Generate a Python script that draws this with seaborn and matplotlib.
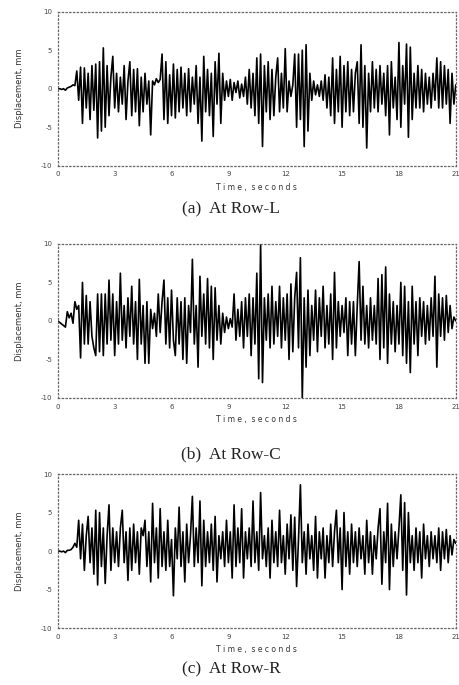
import numpy as np
import pandas as pd
import matplotlib
matplotlib.use("Agg")
import matplotlib.pyplot as plt
import seaborn as sns

# Displacement peaks, one value every 0.1 s (0 - 21 s)
row_l = [
    0, 0, -0.1, 0, -0.2, 0.1, 0.2, 0.3, 0.5, 0.4,
    2.3, -1.5, 2.8, -4.5, 2.7, -2.5, 2.0, -4.0, 3.0, -2.8,
    3.2, -6.4, 3.5, -5.5, 5.3, -5.0, 3.0, -3.5, 1.5, 4.2,
    -2.5, 2.0, -3.0, 1.5, -2.0, 3.0, -4.0, 1.0, 3.5, -3.5,
    2.5, -3.0, 2.6, -4.8, 1.5, -3.0, 2.0, -2.0, 1.0, -6.0,
    1.0, 0.5, 1.3, 0.8, 1.2, 4.5, -4.0, 3.5, -4.5, 1.8,
    -3.5, 3.2, -3.8, 2.5, -3.0, 2.8, -2.5, 2.0, -3.5, 2.6,
    -3.0, 1.5, -2.0, 3.0, -4.5, 1.5, -6.8, 4.2, -3.0, 2.5,
    -3.5, 2.0, -6.2, 3.5, -2.0, 4.6, -4.5, 2.0, -1.5, 1.0,
    -1.0, 1.2, -1.5, 0.8, -0.5, 1.0, -1.2, 0.6, -1.0, 1.5,
    -2.0, 2.5, -2.5, 2.0, -3.5, 4.0, -4.5, 4.5, -7.5, 3.0,
    -3.0, 3.5, -4.0, 2.5, -3.5, 1.5, 4.0, -3.0, 2.0, -2.5,
    5.2, -3.0, 1.0, -1.0, 0.5, 4.5, -5.0, 4.5, -4.0, 5.0,
    -7.5, 5.7, -5.5, 2.0, -1.5, 1.0, -0.8, 0.5, -1.0, 1.0,
    -1.5, 1.8, -2.5, 1.5, -3.5, 4.0, -4.5, 2.5, -3.0, 4.2,
    -5.0, 3.0, -3.0, 3.5, -3.5, 2.5, -3.0, 2.0, 3.5, -4.5,
    5.7, -5.0, 3.0, -7.7, 2.0, -3.0, 3.5, -2.5, 2.5, -3.0,
    3.0, -2.0, 2.0, -3.5, 3.0, -6.0, 3.5, -2.5, 1.5, -4.0,
    6.0, -5.0, 3.0, -2.0, 5.8, -6.3, 5.4, -4.0, 2.0, -2.5,
    3.0, -2.5, 2.5, -3.0, 2.0, -2.0, 1.5, -2.5, 2.0, -1.5,
    4.0, -2.5, 3.5, -2.5, 3.0, -2.0, 2.5, -4.5, 2.0, -2.0, 0.5,
]
row_c = [
    0, -0.2, -0.4, -0.6, -0.8, 1.2, 0.4, 1.0, -0.3, 2.5,
    1.5, 2.0, -4.8, 5.0, -3.0, 3.3, -3.0, 2.5, -2.0, -3.5,
    -4.5, 3.5, -4.0, 3.5, -4.5, 3.5, -3.0, 5.3, -2.5, 3.5,
    -4.5, 2.5, -3.0, 6.2, -2.5, 2.0, -3.5, 3.0, -2.0, 4.5,
    -3.0, 2.5, -5.0, 5.4, -3.0, 2.0, -5.5, 2.5, -5.5, 1.5,
    -1.0, 1.0, -2.0, 3.5, -1.5, 2.5, 5.3, -3.0, 3.0, -3.5,
    4.0, -2.5, -4.5, 3.0, -3.0, 2.5, -5.0, 3.0, -5.5, 2.0,
    -1.5, 8.0, -3.0, 2.0, -6.0, 5.8, -2.0, 3.5, -3.0, 5.5,
    -3.5, 4.5, -5.0, 4.3, -2.5, 2.0, -3.0, 1.0, -1.5, 0.5,
    -1.0, 0.3, -0.8, 3.5, -2.5, 1.5, -2.0, 2.5, -3.5, 3.0,
    -2.0, 3.5, -4.5, 3.0, -3.0, 6.2, -7.5, 10.0, -8.0, 3.0,
    -2.5, 3.5, -3.5, 4.5, -3.0, 2.5, -2.0, 4.5, -3.5, 3.0,
    -2.5, 3.5, -5.0, 4.8, -4.0, 3.0, 6.3, -3.5, 8.2, -10.0,
    3.0, -6.0, 4.0, -4.5, 2.0, -2.5, 4.0, -4.0, 3.0, -2.0,
    4.5, -3.5, 2.0, -3.0, 3.5, -5.0, 6.3, -3.5, 2.5, -2.0,
    2.0, -1.5, 3.0, -4.5, 2.5, -3.0, 2.5, -4.5, 2.0, 7.7,
    -2.5, 4.5, -3.0, 2.0, -3.5, 3.0, -2.5, 2.0, -3.0, 5.5,
    -5.0, 6.0, -3.5, 7.0, -5.5, 3.5, -3.0, 2.5, -4.0, 2.0,
    -3.0, 5.0, -4.5, 4.5, -5.5, 2.5, -6.7, 4.5, -3.0, 2.5,
    -4.5, 3.0, -2.0, 2.5, -3.0, 2.0, -2.5, 3.0, -2.0, 5.8,
    -6.0, 3.5, -2.0, 3.0, -2.5, 3.3, -1.5, 2.0, -1.0, 0.5, 0.0,
]
row_r = [
    0, 0, -0.1, 0, -0.2, 0.1, 0.1, 0.2, 0.5, 1.0,
    0.5, 4.0, -1.0, 3.5, -2.5, 2.0, 4.5, -1.5, 3.0, -3.0,
    5.3, -4.4, 5.0, -2.0, 3.0, -4.2, 2.0, 6.0, -2.5, 3.0,
    -1.5, 2.5, -2.0, 3.0, 5.3, -1.5, 2.5, -3.8, 3.0, -2.5,
    3.5, -1.5, 2.5, -3.0, 3.0, 2.0, 4.0, -2.0, 2.5, -4.0,
    6.2, -1.5, 3.0, -3.5, 5.5, -2.0, 2.5, -2.5, 4.0, -2.0,
    1.5, -5.8, 3.0, -1.0, 5.7, -2.0, 2.5, -4.0, 3.5, -1.5,
    2.0, 7.1, -2.0, 3.0, -1.5, 6.5, -4.5, 4.0, -2.0, 2.5,
    -1.5, 3.5, -2.5, 4.5, -4.0, 2.0, -1.0, 2.5, -2.0, 4.0,
    -1.5, 2.5, -3.5, 6.0, -2.0, 3.0, -1.5, 5.5, -3.5, 2.5,
    -1.0, 3.0, -2.0, 6.5, -1.5, 2.5, -2.5, 7.6, -1.0, 2.0,
    -2.0, 3.0, -3.5, 4.0, -1.5, 2.5, -2.0, 5.3, -1.5, 2.0,
    -3.0, 3.5, -1.0, 4.7, -2.5, 4.4, -4.6, 1.5, 8.6, -1.5,
    2.5, -3.0, 3.5, -1.0, 2.0, -2.5, 4.5, -3.5, 2.5, -1.0,
    3.0, -3.5, 2.0, -1.5, 3.5, -2.0, 2.5, 5.3, -1.5, 3.0,
    -5.0, 5.0, -2.0, 2.5, -3.0, 3.5, -1.5, 2.5, -2.0, 3.0,
    -1.0, 2.0, -3.0, 4.0, -1.5, 2.5, -3.0, 2.0, -1.0, 3.0,
    5.5, -4.3, 2.5, -1.5, 6.2, -5.0, 3.5, -2.0, 2.5, -1.0,
    3.0, 7.3, -2.5, 6.3, -5.7, 5.0, -1.5, 2.0, -2.5, 3.0,
    -1.5, 2.5, -3.5, 3.5, -1.0, 2.0, -2.0, 2.5, -1.0, 2.0,
    -1.5, 3.0, -2.5, 2.5, -1.0, 2.8, -1.5, 2.0, -0.5, 1.5, 1.0,
]
captions = ["(a)  At Row-L", "(b)  At Row-C", "(c)  At Row-R"]
x_ticks = [0, 3, 6, 9, 12, 15, 18, 21]
y_ticks = [-10, -5, 0, 5, 10]
y_labels = ["-10", "-5", "0", "5", "10"]

sns.set_style("white")
plt.rcParams['font.family'] = ['DejaVu Sans']

fig = plt.figure(figsize=(4.59, 6.85), dpi=100)
series = [row_l, row_c, row_r]
# axes boxes in figure fraction: left, bottom, width, height
boxes = [(0.126, 0.758, 0.867, 0.225),
         (0.126, 0.419, 0.867, 0.225),
         (0.126, 0.083, 0.867, 0.225)]
caption_y = [0.694, 0.336, 0.023]

for vals, box, cap, cy in zip(series, boxes, captions, caption_y):
    ax = fig.add_axes(box)
    df = pd.DataFrame({"time": np.arange(len(vals)) * 0.1, "disp": vals})
    sns.lineplot(data=df, x="time", y="disp", ax=ax, color="black", linewidth=1.2)
    ax.set_xlim(0, 21)
    ax.set_ylim(-10, 10)
    ax.set_xticks(x_ticks)
    ax.set_xticklabels([str(t) for t in x_ticks])
    ax.set_yticks(y_ticks)
    ax.set_yticklabels(y_labels)
    ax.tick_params(axis="both", labelsize=5, colors="#444444", length=2, direction="in", pad=4)
    for s in ax.spines.values():
        s.set_linestyle((0, (1, 2)))
        s.set_color("#666666")
        s.set_linewidth(0.9)
    ax.set_xlabel("T i m e ,  s e c o n d s", fontsize=5.5, color="#333333", labelpad=4)
    ax.set_ylabel("Displacement, mm", fontsize=6, color="#333333", labelpad=12)
    fig.text(0.503, cy, cap, ha="center", va="center", fontsize=12.5,
             family="Liberation Serif", color="#222222")

fig.savefig("out.png", dpi=100)
